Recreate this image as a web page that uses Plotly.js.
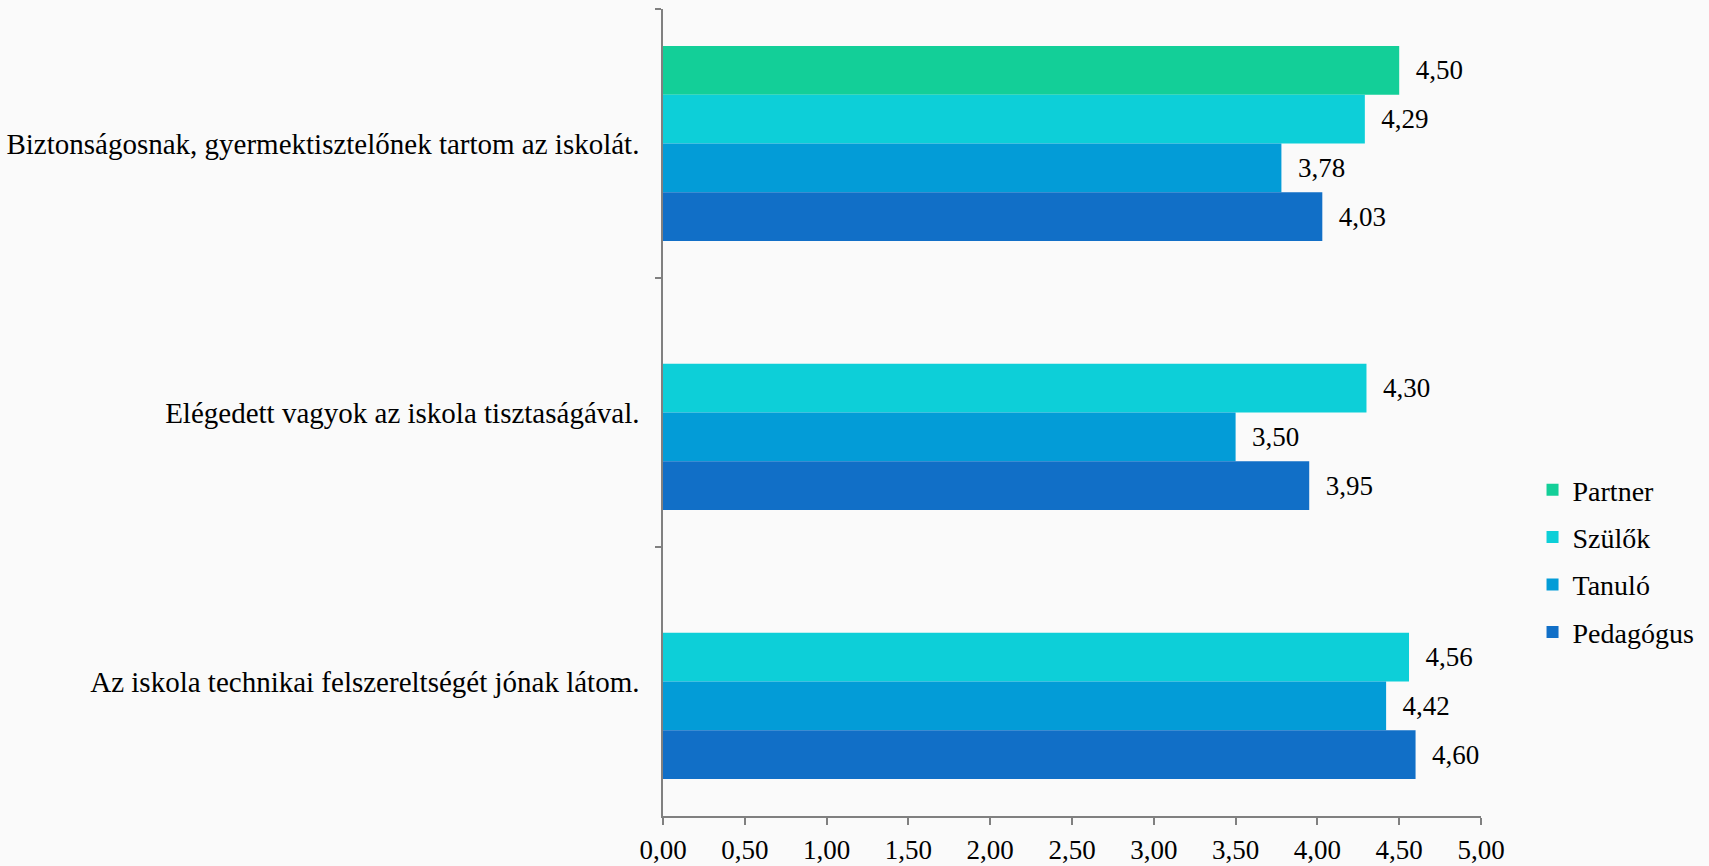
<!DOCTYPE html>
<html>
<head>
<meta charset="utf-8">
<script src="https://cdn.plot.ly/plotly-3.0.1.min.js"></script>
<style>
html,body{margin:0;padding:0;background:#fafafa;}
#chart{width:1709px;height:866px;}
</style>
</head>
<body>
<div id="chart"></div>
<script>
const categories = [
  "Biztonságosnak, gyermektisztelőnek tartom az iskolát.",
  "Elégedett vagyok az iskola tisztaságával.",
  "Az iskola technikai felszereltségét jónak látom."
];
const seriesNames = ["Partner", "Szülők", "Tanuló", "Pedagógus"];
const partner   = [4.50, null, null];
const szulok    = [4.29, 4.30, 4.56];
const tanulo    = [3.78, 3.50, 4.42];
const pedagogus = [4.03, 3.95, 4.60];
const xTicks = [0, 0.5, 1, 1.5, 2, 2.5, 3, 3.5, 4, 4.5, 5];

const colors = ["#13CF98", "#0DCFD8", "#039CD7", "#116FC7"];
const FONT = "Liberation Serif, DejaVu Serif, serif";
const allValues = [partner, szulok, tanulo, pedagogus];

const traces = allValues.map((vals, i) => ({
  type: "bar",
  orientation: "h",
  name: seriesNames[i],
  legendgroup: "g" + i,
  y: categories,
  x: vals,
  marker: {color: colors[i], line: {width: 0}},
  texttemplate: "\u00a0\u00a0%{x:.2f}",
  textposition: "outside",
  cliponaxis: false,
  textfont: {family: FONT, size: 27, color: "#000"},
  hoverinfo: "x+name"
}));

const layout = {
  width: 1709,
  height: 866,
  paper_bgcolor: "#fafafa",
  plot_bgcolor: "rgba(0,0,0,0)",
  separators: ", ",
  barmode: "group",
  bargap: 0.276,
  bargroupgap: 0,
  margin: {l: 663, r: 226, t: 9, b: 50},
  font: {family: FONT, color: "#000"},
  showlegend: true,
  legend: {
    x: 1.063, xanchor: "left",
    y: 0.316, yanchor: "middle",
    font: {family: FONT, size: 28, color: "#000"},
    tracegroupgap: 8,
    bgcolor: "rgba(0,0,0,0)",
    traceorder: "grouped"
  },
  xaxis: {
    range: [0, 5],
    tickvals: xTicks,
    tickformat: ".2f",
    showgrid: false,
    zeroline: false,
    showline: true,
    linecolor: "#808080",
    linewidth: 1.5,
    ticks: "outside",
    ticklen: 7,
    tickcolor: "#808080",
    tickwidth: 1.5,
    tickfont: {family: FONT, size: 27, color: "#000"},
    ticklabelstandoff: 2,
    fixedrange: true
  },
  yaxis: {
    type: "category",
    autorange: "reversed",
    showgrid: false,
    zeroline: false,
    showline: true,
    linecolor: "#808080",
    linewidth: 1.5,
    ticks: "outside",
    tickson: "boundaries",
    ticklen: 6,
    tickcolor: "#808080",
    tickwidth: 1.5,
    tickfont: {family: FONT, size: 29, color: "#000"},
    ticklabelstandoff: 16,
    fixedrange: true
  }
};

Plotly.newPlot("chart", traces, layout, {displayModeBar: false});
</script>
</body>
</html>
